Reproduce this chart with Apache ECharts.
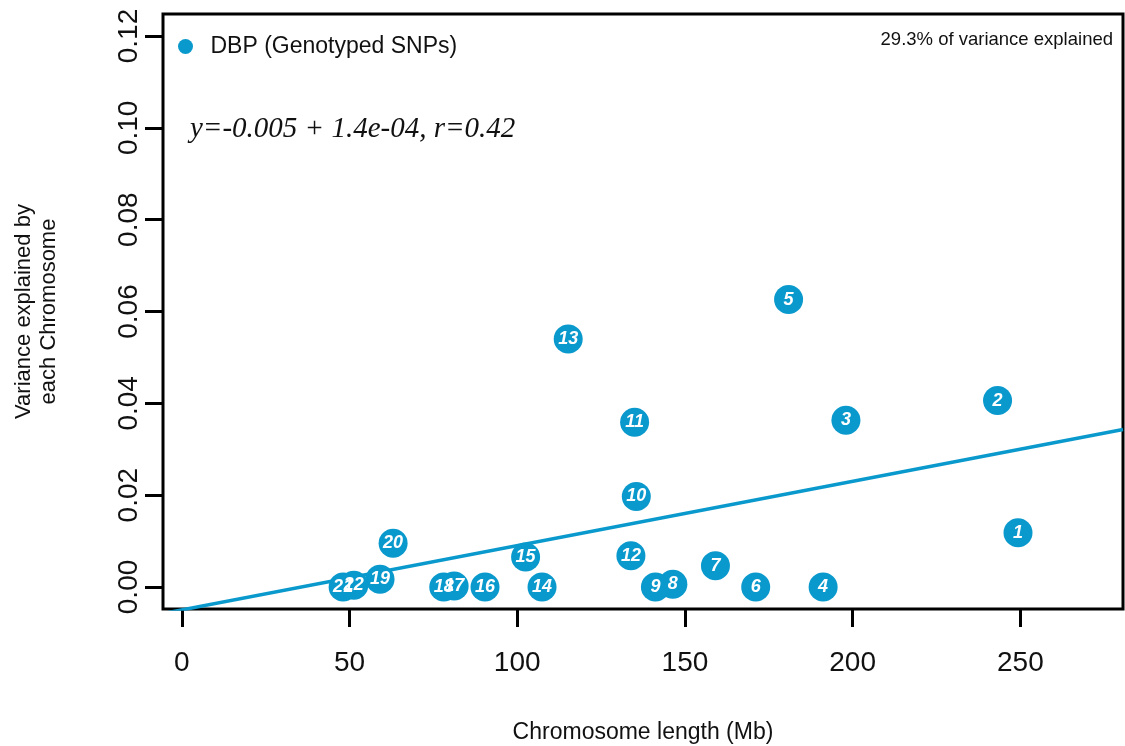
<!DOCTYPE html>
<html>
<head>
<meta charset="utf-8">
<title>Variance explained by chromosome</title>
<script src="https://cdn.jsdelivr.net/npm/echarts@6/dist/echarts.min.js"></script>
<style>
  html, body { margin: 0; padding: 0; background: #fff; }
  #chart { width: 1125px; height: 746px; }
</style>
</head>
<body>
<div id="chart"></div>
<script>
// Chromosome numbers, their lengths (Mb) and the share of DBP variance each explains
const chromosomes = ['1','2','3','4','5','6','7','8','9','10','11','12','13','14','15','16','17','18','19','20','21','22'];
const lengthsMb = [249.3, 243.2, 198.0, 191.2, 180.9, 171.1, 159.1, 146.4, 141.2, 135.5, 135.0, 133.9, 115.2, 107.4, 102.5, 90.4, 81.2, 78.1, 59.1, 63.0, 48.1, 51.3];
const varianceExplained = [0.0118, 0.0406, 0.0363, 0.0000, 0.0626, 0.0000, 0.0046, 0.0006, 0.0000, 0.0197, 0.0359, 0.0068, 0.0540, 0.0000, 0.0065, 0.0000, 0.0002, 0.0000, 0.0017, 0.0095, 0.0000, 0.0004];

// Fitted line: y = intercept + slope * length
const fitIntercept = -0.005;
const fitSlope = 1.4e-4;

// Axis tick values
const xTicks = [0, 50, 100, 150, 200, 250];
const yTicks = [0, 0.02, 0.04, 0.06, 0.08, 0.10, 0.12];

const xMin = -5.6, xMax = 280.6;
const yMin = -0.0048, yMax = 0.1248;

const blue = '#0a99cc';
const sans = '"Liberation Sans", Arial, Helvetica, sans-serif';
const serif = '"Liberation Serif", "Times New Roman", serif';

const points = chromosomes.map((c, i) => ({ name: c, value: [lengthsMb[i], varianceExplained[i]] }));
const fitLine = [xMin, xMax].map(x => [x, fitIntercept + fitSlope * x]);

const chart = echarts.init(document.getElementById('chart'), null, { renderer: 'canvas' });

chart.setOption({
  animation: false,
  backgroundColor: '#fff',
  grid: {
    left: 163, right: 2, top: 14, bottom: 137,
    outerBoundsMode: 'none', containLabel: false,
    show: true, borderColor: '#000', borderWidth: 3, backgroundColor: 'transparent'
  },
  legend: {
    left: 173, top: 30,
    itemWidth: 40, itemHeight: 15,
    icon: 'circle',
    data: ['DBP (Genotyped SNPs)'],
    textStyle: { fontFamily: sans, fontSize: 23, color: '#111' }
  },
  xAxis: {
    type: 'value', min: xMin, max: xMax,
    name: 'Chromosome length (Mb)',
    nameLocation: 'middle', nameGap: 112,
    nameTextStyle: { fontFamily: sans, fontSize: 23, color: '#111' },
    axisLine: { show: false, onZero: false },
    splitLine: { show: false },
    axisTick: { show: true, length: 18, customValues: xTicks, lineStyle: { color: '#000', width: 3 } },
    axisLabel: { customValues: xTicks, margin: 40, fontFamily: sans, fontSize: 28, color: '#111' }
  },
  yAxis: {
    type: 'value', min: yMin, max: yMax,
    name: 'Variance explained by\neach Chromosome',
    nameLocation: 'middle', nameRotate: 90, nameGap: 102,
    nameTextStyle: { fontFamily: sans, fontSize: 22, lineHeight: 25, color: '#111', align: 'center' },
    axisLine: { show: false, onZero: false },
    splitLine: { show: false },
    axisTick: { show: true, length: 18, customValues: yTicks, lineStyle: { color: '#000', width: 3 } },
    axisLabel: {
      customValues: yTicks, rotate: 90, margin: 20,
      fontFamily: sans, fontSize: 28, color: '#111',
      formatter: v => v.toFixed(2)
    }
  },
  graphic: [
    {
      type: 'text', right: 12, top: 30,
      style: { text: '29.3% of variance explained', font: '18.5px ' + sans, fill: '#111' }
    },
    {
      type: 'text', left: 190, top: 115,
      style: { text: 'y=-0.005 + 1.4e-04, r=0.42', font: 'italic 29px ' + serif, fill: '#111' }
    }
  ],
  series: [
    {
      name: 'fit', type: 'line', data: fitLine, showSymbol: false, symbol: 'none',
      lineStyle: { color: blue, width: 3.5 }, clip: true, z: 1, silent: true
    },
    {
      name: 'DBP (Genotyped SNPs)', type: 'scatter', data: points,
      symbol: 'circle', symbolSize: 29, z: 2,
      itemStyle: { color: blue, opacity: 1 },
      label: {
        show: true, position: 'inside',
        formatter: p => p.name,
        color: '#fff', fontFamily: sans, fontStyle: 'italic', fontWeight: 'bold', fontSize: 18
      }
    }
  ]
});
</script>
</body>
</html>
